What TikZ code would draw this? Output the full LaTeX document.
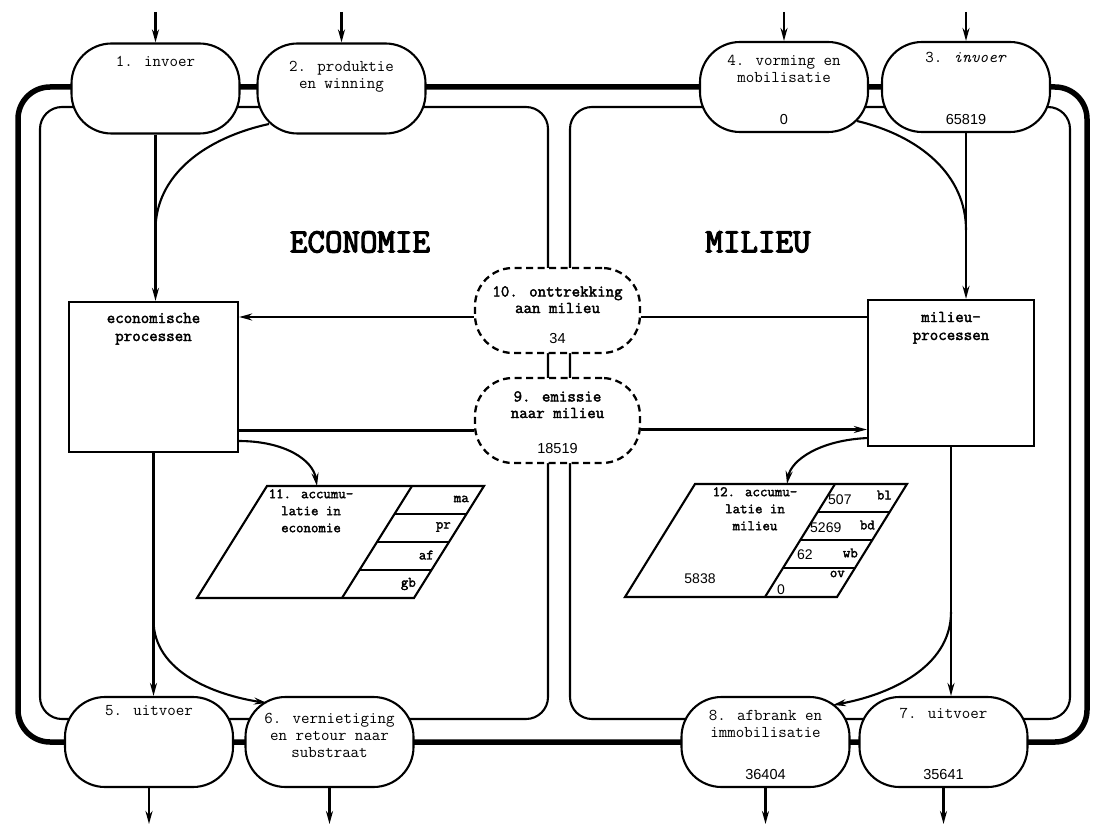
\documentclass[tikz,border=0pt]{standalone}
\usepackage{fontspec}
\setmainfont{Latin Modern Mono}[AutoFakeBold=2.2]
\newfontfamily\titlefont{Latin Modern Mono}[FakeBold=3.5]
\newfontfamily\sansnum{Liberation Sans}
\usetikzlibrary{arrows.meta}
% #1 box height, #2 strut for first line, #3 text, #4 number at bottom
\newcommand\stx[4]{\parbox[c][#1][t]{164pt}{\centering\rule{0pt}{#2}#3\par\vfill{\sansnum\mdseries\fontsize{14.5pt}{16pt}\selectfont #4}\par}}
\tikzset{
  base/.style={font=\fontsize{16.5pt}{17pt}\selectfont},
  stad/.style={draw, line width=2.1pt, fill=white, rounded corners=40pt,
    minimum width=168pt, minimum height=90pt, inner sep=0pt, base},
  dstad/.style={draw, line width=2.3pt, dash pattern=on 7pt off 4.5pt, fill=white,
    rounded corners=38pt, minimum width=165pt, minimum height=85pt, inner sep=0pt,
    font=\bfseries\fontsize{16.5pt}{16.5pt}\selectfont},
  proc/.style={draw, line width=2.3pt, fill=white, inner sep=0pt,
    font=\bfseries\fontsize{16.5pt}{18pt}\selectfont},
  conn/.style={line width=2.1pt},
  arr/.style={conn, -{Stealth[length=13pt,width=7pt]}},
  loopthin/.style={line width=2.1pt, rounded corners=22pt},
  loopthick/.style={line width=5.5pt, rounded corners=32pt},
  ptext/.style={inner sep=0pt, align=center, font=\bfseries\fontsize{14.5pt}{17pt}\selectfont},
  cell/.style={inner sep=0pt, font=\bfseries\fontsize{14.5pt}{15pt}\selectfont},
  num/.style={inner sep=0pt, font=\sansnum\fontsize{14pt}{16pt}\selectfont},
  title/.style={inner sep=0pt, font=\titlefont\fontsize{34pt}{36pt}\selectfont},
  para/.style={line width=2.1pt, line join=miter},
}
\begin{document}
\begin{tikzpicture}[x=1pt,y=-1pt]
\useasboundingbox (0,0) rectangle (1099,826);

% ---- circulation loops (drawn first, nodes cover them)
\draw[loopthick] (18,87) rectangle (1087,742);
\draw[loopthin] (40,107) rectangle (548,719);
\draw[loopthin] (570,107) rectangle (1070,719);

% ---- curved branches
\coordinate (c1s) at (269,124);
\coordinate (c1e) at (155.5,230);
\draw[conn] (c1s) .. controls (205,138) and (155.5,175) .. (c1e);
\coordinate (c2s) at (857,121);
\coordinate (c2e) at (966,230);
\draw[conn] (c2s) .. controls (920,136) and (966,175) .. (c2e);

% ---- top nodes
\node[stad] (n1) at (155.5,88.5) {\stx{76pt}{16pt}{1. invoer}{}};
\node[stad] (n2) at (341.5,88.5) {\stx{76pt}{21pt}{2. produktie\\en winning}{}};
\node[stad] (n4) at (784,87) {\stx{76pt}{17pt}{4. vorming en\\mobilisatie}{0}};
\node[stad] (n3) at (966,87) {\stx{76pt}{14pt}{3. \textit{invoer}}{65819}};

% ---- bottom nodes
\node[stad] (n5) at (149,742) {\stx{76pt}{11pt}{5. uitvoer}{}};
\node[stad] (n6) at (329.5,742) {\stx{76pt}{19pt}{6. vernietiging\\en retour naar\\substraat}{}};
\node[stad] (n8) at (765.5,742) {\stx{76pt}{16pt}{8. afbrank en\\immobilisatie}{36404}};
\node[stad] (n7) at (943.5,742) {\stx{76pt}{14pt}{7. uitvoer}{35641}};

% ---- exchange nodes (dashed)
\node[dstad] (n10) at (557.5,310.5) {\stx{66pt}{19pt}{10. onttrekking\\aan milieu}{34}};
\node[dstad] (n9) at (557.5,420.5) {\stx{66pt}{14pt}{9. emissie\\naar milieu}{18519}};

% ---- process boxes
\node[proc, minimum width=169pt, minimum height=150pt] (econ) at (153.5,377)
  {\parbox[c][140pt][t]{160pt}{\centering\rule{0pt}{16pt}economische\\processen}};
\node[proc, minimum width=166pt, minimum height=146pt] (milieu) at (951,373)
  {\parbox[c][136pt][t]{160pt}{\centering\rule{0pt}{17pt}milieu-\\processen}};

% ---- titles
\node[title] (teco) at (360,242) {ECONOMIE};
\node[title] (tmil) at (758,242) {MILIEU};

% ---- inputs and outputs
\coordinate (n1in) at (155.5,12);
\coordinate (n2in) at (341.5,12);
\coordinate (n4in) at (784,12);
\coordinate (n3in) at (966,12);
\draw[arr] (n1in) -- (n1);
\draw[arr] (n2in) -- (n2);
\draw[arr] (n4in) -- (n4);
\draw[arr] (n3in) -- (n3);
\coordinate (n5out) at (149,824);
\coordinate (n6out) at (329.5,824);
\coordinate (n8out) at (765.5,824);
\coordinate (n7out) at (943.5,824);
\draw[arr] (n5) -- (n5out);
\draw[arr] (n6) -- (n6out);
\draw[arr] (n8) -- (n8out);
\draw[arr] (n7) -- (n7out);

% ---- vertical flows
\draw[arr] (n1.south) -- (n1.south |- econ.north);
\draw[arr] (n3.south) -- (n3.south |- milieu.north);
\draw[arr] (econ.south) -- (econ.south |- n5.north);
\draw[arr] (milieu.south) -- (milieu.south |- n7.north);

% ---- exchange flows
\draw[arr] ([yshift=-6.5pt]n10.west) -- ([yshift=-6.5pt]n10.west -| econ.east);
\draw[conn] ([yshift=-6.5pt]n10.east) -- ([yshift=-6.5pt]n10.east -| milieu.west);
\draw[conn] ([yshift=-10pt]n9.west -| econ.east) -- ([yshift=-10pt]n9.west);
\draw[arr] ([yshift=-9pt]n9.east) -- ([yshift=-9pt]n9.east -| milieu.west);

% ---- accumulation parallelograms
\draw[para] (267,486) -- (484,486) -- (414,598) -- (197,598) -- cycle;
\draw[conn] (412,486) -- (342,598);
\draw[conn] (394.5,514) -- (466.5,514);
\draw[conn] (377,542) -- (449,542);
\draw[conn] (359.5,570) -- (431.5,570);
\node[ptext, anchor=north] (t11) at (311,489) {11. accumu-\\latie in\\economie};
\node[cell, anchor=east] (ma) at (469,499) {ma};
\node[cell, anchor=east] (pr) at (451,527) {pr};
\node[cell, anchor=east] (af) at (434,555) {af};
\node[cell, anchor=east] (gb) at (416,584) {gb};

\draw[para] (695,484) -- (907,484) -- (837,597) -- (625,597) -- cycle;
\draw[conn] (835,484) -- (765,597);
\draw[conn] (817.7,512) -- (889.7,512);
\draw[conn] (800.3,540) -- (872.3,540);
\draw[conn] (783,568) -- (855,568);
\node[ptext, anchor=north] (t12) at (755,487) {12. accumu-\\latie in\\milieu};
\node[num] (v5838) at (700,579) {5838};
\node[cell, anchor=east] (bl) at (892,495) {bl};
\node[num, anchor=west] (v507) at (828,500) {507};
\node[cell, anchor=east] (bd) at (875,525) {bd};
\node[num, anchor=west] (v5269) at (810,528) {5269};
\node[cell, anchor=east] (wb) at (858,553) {wb};
\node[num, anchor=west] (v62) at (797,555) {62};
\node[cell, anchor=east] (ov) at (845,574) {ov};
\node[num] (v0) at (781,590) {0};

% ---- curved flows into accumulation and disposal
\coordinate (c3s) at (238.5,441);
\coordinate (c3e) at (317,486);
\draw[arr] (c3s) .. controls (285,441) and (313,460) .. (c3e);
\coordinate (c4s) at (868,438);
\coordinate (c4e) at (787,484);
\draw[arr] (c4s) .. controls (820,440) and (791,460) .. (c4e);
\coordinate (c5s) at (153.5,620);
\coordinate (c5e) at (267,703);
\draw[arr] (c5s) .. controls (153.5,672) and (215,695) .. (c5e);
\coordinate (c6s) at (951,612);
\coordinate (c6e) at (833,705);
\draw[arr] (c6s) .. controls (951,668) and (888,695) .. (c6e);
\end{tikzpicture}
\end{document}
